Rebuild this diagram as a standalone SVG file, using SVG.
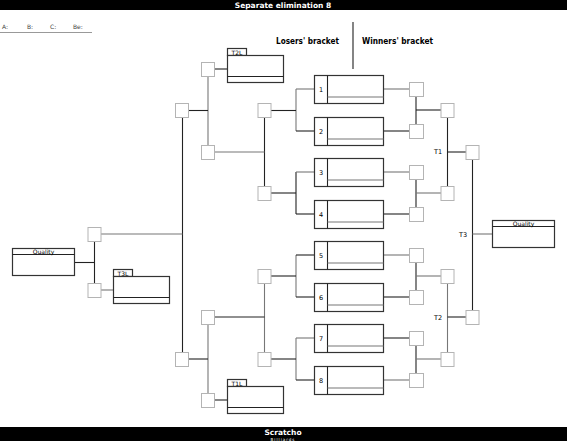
<svg xmlns="http://www.w3.org/2000/svg" width="567" height="441" viewBox="0 0 567 441">
<defs>
<style>
.sq{fill:#fff;stroke:#b4b4b4;stroke-width:1}
.bx{fill:#fff;stroke:#333;stroke-width:1.2}
.ln{stroke:#222;stroke-width:1.1;fill:none}
.lg{stroke:#777;stroke-width:1.1;fill:none}
.num{font-family:"DejaVu Sans",sans-serif;font-size:6.5px;fill:#000}
.lab{font-family:"DejaVu Sans",sans-serif;font-size:6.5px;fill:#000}
.hd{font-family:"DejaVu Sans",sans-serif;font-size:9px;font-weight:bold;fill:#000}
.tab{font-family:"DejaVu Sans",sans-serif;font-size:6px;fill:#000}
</style>
</defs>
<rect width="567" height="441" fill="#fff"/>
<g id="header">
<rect x="0" y="0" width="567" height="10" fill="#000"/>
<text x="283" y="8" text-anchor="middle" font-family="DejaVu Sans, sans-serif" font-size="7.5" font-weight="bold" fill="#fff">Separate elimination 8</text>
</g>
<g id="footer">
<rect x="0" y="427" width="567" height="14" fill="#000"/>
<text x="283" y="435" text-anchor="middle" font-family="DejaVu Sans, sans-serif" font-size="7.5" font-weight="bold" fill="#fff">Scratcho</text>
<text x="283" y="440.5" text-anchor="middle" font-family="DejaVu Sans, sans-serif" font-size="4" letter-spacing="1" fill="#fff">Billiards</text>
</g>
<g id="legend" font-family="DejaVu Sans, sans-serif" font-size="6" fill="#444">
<text x="2" y="29">A:</text><text x="27" y="29">B:</text><text x="50" y="29">C:</text><text x="73" y="29">Be:</text>
<line x1="0" y1="32.5" x2="92" y2="32.5" stroke="#999" stroke-width="1.2"/>
</g>
<g id="titles">
<text class="hd" x="276" y="44" textLength="63" lengthAdjust="spacingAndGlyphs">Losers' bracket</text>
<text class="hd" x="362" y="44" textLength="71" lengthAdjust="spacingAndGlyphs">Winners' bracket</text>
<line x1="353" y1="22" x2="353" y2="69" stroke="#333" stroke-width="1.2"/>
</g>
<g id="connectors">
<!-- winners: box to right squares -->
<line class="lg" x1="384" y1="89" x2="409" y2="89"/>
<line class="ln" x1="384" y1="131" x2="409" y2="131"/>
<line class="lg" x1="384" y1="172" x2="409" y2="172"/>
<line class="ln" x1="384" y1="214" x2="409" y2="214"/>
<line class="lg" x1="384" y1="255" x2="409" y2="255"/>
<line class="ln" x1="384" y1="297" x2="409" y2="297"/>
<line class="ln" x1="384" y1="338" x2="409" y2="338"/>
<line class="lg" x1="384" y1="380" x2="409" y2="380"/>
<!-- pair verticals right -->
<line class="ln" x1="416" y1="96" x2="416" y2="124"/>
<line class="ln" x1="416" y1="110" x2="441" y2="110"/>
<line class="ln" x1="416" y1="179" x2="416" y2="207"/>
<line class="lg" x1="416" y1="193" x2="441" y2="193"/>
<line class="ln" x1="416" y1="262" x2="416" y2="290"/>
<line class="lg" x1="416" y1="276" x2="441" y2="276"/>
<line class="ln" x1="416" y1="345" x2="416" y2="373"/>
<line class="lg" x1="416" y1="359" x2="441" y2="359"/>
<!-- T1 / T2 -->
<line class="ln" x1="447.5" y1="117" x2="447.5" y2="186"/>
<line class="ln" x1="447.5" y1="152" x2="466" y2="152"/>
<line class="lg" x1="447.5" y1="283" x2="447.5" y2="352"/>
<line class="ln" x1="447.5" y1="317" x2="466" y2="317"/>
<line class="ln" x1="472.5" y1="159" x2="472.5" y2="310"/>
<line class="lg" x1="472.5" y1="234" x2="492" y2="234"/>
<!-- left feeders into winners boxes -->
<line class="lg" x1="296" y1="89" x2="296" y2="131"/>
<line class="lg" x1="296" y1="89" x2="314" y2="89"/>
<line class="ln" x1="296" y1="131" x2="314" y2="131"/>
<line class="ln" x1="271" y1="110.5" x2="296" y2="110.5"/>
<line class="ln" x1="296" y1="172" x2="296" y2="214"/>
<line class="lg" x1="296" y1="172" x2="314" y2="172"/>
<line class="ln" x1="296" y1="214" x2="314" y2="214"/>
<line class="ln" x1="271" y1="193" x2="296" y2="193"/>
<line class="lg" x1="296" y1="255" x2="296" y2="297"/>
<line class="ln" x1="296" y1="255" x2="314" y2="255"/>
<line class="ln" x1="296" y1="297" x2="314" y2="297"/>
<line class="ln" x1="271" y1="276" x2="296" y2="276"/>
<line class="lg" x1="296" y1="338" x2="296" y2="380"/>
<line class="lg" x1="296" y1="338" x2="314" y2="338"/>
<line class="ln" x1="296" y1="380" x2="314" y2="380"/>
<line class="ln" x1="271" y1="359" x2="296" y2="359"/>
<!-- losers second column -->
<line class="ln" x1="264.5" y1="117" x2="264.5" y2="186"/>
<line class="lg" x1="215" y1="152" x2="264.5" y2="152"/>
<line class="lg" x1="264.5" y1="283" x2="264.5" y2="352"/>
<line class="ln" x1="215" y1="317" x2="264.5" y2="317"/>
<!-- losers third column -->
<line class="lg" x1="208" y1="76" x2="208" y2="145"/>
<line class="ln" x1="215" y1="69" x2="227" y2="69"/>
<line class="ln" x1="189" y1="110.5" x2="208" y2="110.5"/>
<line class="lg" x1="208" y1="324" x2="208" y2="393"/>
<line class="ln" x1="214" y1="400" x2="227" y2="400"/>
<line class="ln" x1="189" y1="359" x2="208" y2="359"/>
<!-- losers fourth column -->
<line class="ln" x1="182.5" y1="117" x2="182.5" y2="352"/>
<line class="lg" x1="101" y1="234" x2="182.5" y2="234"/>
<line class="ln" x1="94.5" y1="241" x2="94.5" y2="283"/>
<line class="ln" x1="75" y1="262.5" x2="94.5" y2="262.5"/>
<line class="lg" x1="101" y1="290" x2="113" y2="290" stroke-width="1.5"/>
</g>
<g id="sq-w">
<rect class="sq" x="409.5" y="82.5" width="14" height="14"/>
<rect class="sq" x="409.5" y="124.5" width="14" height="14"/>
<rect class="sq" x="409.5" y="165.5" width="14" height="14"/>
<rect class="sq" x="409.5" y="207.5" width="14" height="14"/>
<rect class="sq" x="409.5" y="248.5" width="14" height="14"/>
<rect class="sq" x="409.5" y="290.5" width="14" height="14"/>
<rect class="sq" x="409.5" y="331.5" width="14" height="14"/>
<rect class="sq" x="409.5" y="373.5" width="14" height="14"/>
<rect class="sq" x="441" y="103.5" width="13" height="14"/>
<rect class="sq" x="441" y="186.5" width="13" height="14"/>
<rect class="sq" x="441" y="269.5" width="13" height="14"/>
<rect class="sq" x="441" y="352.5" width="13" height="14"/>
<rect class="sq" x="466" y="145.5" width="13" height="14"/>
<rect class="sq" x="466" y="310.5" width="13" height="14"/>
</g>
<g id="sq-l">
<rect class="sq" x="258" y="103.5" width="13" height="14"/>
<rect class="sq" x="258" y="186.5" width="13" height="14"/>
<rect class="sq" x="258" y="269.5" width="13" height="14"/>
<rect class="sq" x="258" y="352.5" width="13" height="14"/>
<rect class="sq" x="201.5" y="145.5" width="13" height="14"/>
<rect class="sq" x="201.5" y="310.5" width="13" height="14"/>
<rect class="sq" x="201.5" y="62.5" width="13" height="14"/>
<rect class="sq" x="201.5" y="393.5" width="13" height="14"/>
<rect class="sq" x="175.5" y="103.5" width="13" height="14"/>
<rect class="sq" x="175.5" y="352.5" width="13" height="14"/>
<rect class="sq" x="88" y="227.5" width="13" height="14"/>
<rect class="sq" x="88" y="283.5" width="13" height="14"/>
</g>
<g id="m1"><rect class="bx" x="314.5" y="75.5" width="69" height="28"/><line class="ln" x1="327.5" y1="75.5" x2="327.5" y2="103.5"/><line class="lg" x1="327.5" y1="97" x2="383.5" y2="97" stroke-width="1.6"/><text class="num" x="321" y="92" text-anchor="middle">1</text></g>
<g id="m2"><rect class="bx" x="314.5" y="117.5" width="69" height="28"/><line class="ln" x1="327.5" y1="117.5" x2="327.5" y2="145.5"/><line class="lg" x1="327.5" y1="139" x2="383.5" y2="139" stroke-width="1.6"/><text class="num" x="321" y="134" text-anchor="middle">2</text></g>
<g id="m3"><rect class="bx" x="314.5" y="158.5" width="69" height="28"/><line class="ln" x1="327.5" y1="158.5" x2="327.5" y2="186.5"/><line class="lg" x1="327.5" y1="180" x2="383.5" y2="180" stroke-width="1.6"/><text class="num" x="321" y="175" text-anchor="middle">3</text></g>
<g id="m4"><rect class="bx" x="314.5" y="200.5" width="69" height="28"/><line class="ln" x1="327.5" y1="200.5" x2="327.5" y2="228.5"/><line class="lg" x1="327.5" y1="222" x2="383.5" y2="222" stroke-width="1.6"/><text class="num" x="321" y="217" text-anchor="middle">4</text></g>
<g id="m5"><rect class="bx" x="314.5" y="241.5" width="69" height="28"/><line class="ln" x1="327.5" y1="241.5" x2="327.5" y2="269.5"/><line class="lg" x1="327.5" y1="263" x2="383.5" y2="263" stroke-width="1.6"/><text class="num" x="321" y="258" text-anchor="middle">5</text></g>
<g id="m6"><rect class="bx" x="314.5" y="283.5" width="69" height="28"/><line class="ln" x1="327.5" y1="283.5" x2="327.5" y2="311.5"/><line class="lg" x1="327.5" y1="305" x2="383.5" y2="305" stroke-width="1.6"/><text class="num" x="321" y="300" text-anchor="middle">6</text></g>
<g id="m7"><rect class="bx" x="314.5" y="324.5" width="69" height="28"/><line class="ln" x1="327.5" y1="324.5" x2="327.5" y2="352.5"/><line class="lg" x1="327.5" y1="346" x2="383.5" y2="346" stroke-width="1.6"/><text class="num" x="321" y="341" text-anchor="middle">7</text></g>
<g id="m8"><rect class="bx" x="314.5" y="366.5" width="69" height="28"/><line class="ln" x1="327.5" y1="366.5" x2="327.5" y2="394.5"/><line class="lg" x1="327.5" y1="388" x2="383.5" y2="388" stroke-width="1.6"/><text class="num" x="321" y="383" text-anchor="middle">8</text></g>
<g id="t2l"><rect class="bx" x="227.5" y="48.5" width="19" height="7"/><text class="tab" x="237" y="54.5" text-anchor="middle">T2L</text><rect class="bx" x="227.5" y="55.5" width="56" height="27"/><line class="ln" x1="227.5" y1="76.5" x2="283.5" y2="76.5"/></g>
<g id="t1l"><rect class="bx" x="227.5" y="379.5" width="19" height="7"/><text class="tab" x="237" y="385.5" text-anchor="middle">T1L</text><rect class="bx" x="227.5" y="386.5" width="56" height="27"/><line class="ln" x1="227.5" y1="407.5" x2="283.5" y2="407.5"/></g>
<g id="t3l"><rect class="bx" x="113.5" y="269.5" width="19" height="7"/><text class="tab" x="123" y="275.5" text-anchor="middle">T3L</text><rect class="bx" x="113.5" y="276.5" width="56" height="27"/><line class="ln" x1="113.5" y1="297.5" x2="169.5" y2="297.5"/></g>
<g id="qual-left"><rect class="bx" x="12.5" y="248.5" width="62" height="27"/><line class="ln" x1="12.5" y1="254.5" x2="74.5" y2="254.5" stroke-width="1.6"/><text class="tab" x="43.5" y="253.5" text-anchor="middle">Quality</text></g>
<g id="qual-right"><rect class="bx" x="492.5" y="220.5" width="62" height="27"/><line class="ln" x1="492.5" y1="226.5" x2="554.5" y2="226.5" stroke-width="1.6"/><text class="tab" x="523.5" y="225.5" text-anchor="middle">Quality</text></g>
<g id="round-labels">
<text class="lab" x="434" y="154">T1</text>
<text class="lab" x="434" y="320">T2</text>
<text class="lab" x="459" y="237">T3</text>
</g>
</svg>
